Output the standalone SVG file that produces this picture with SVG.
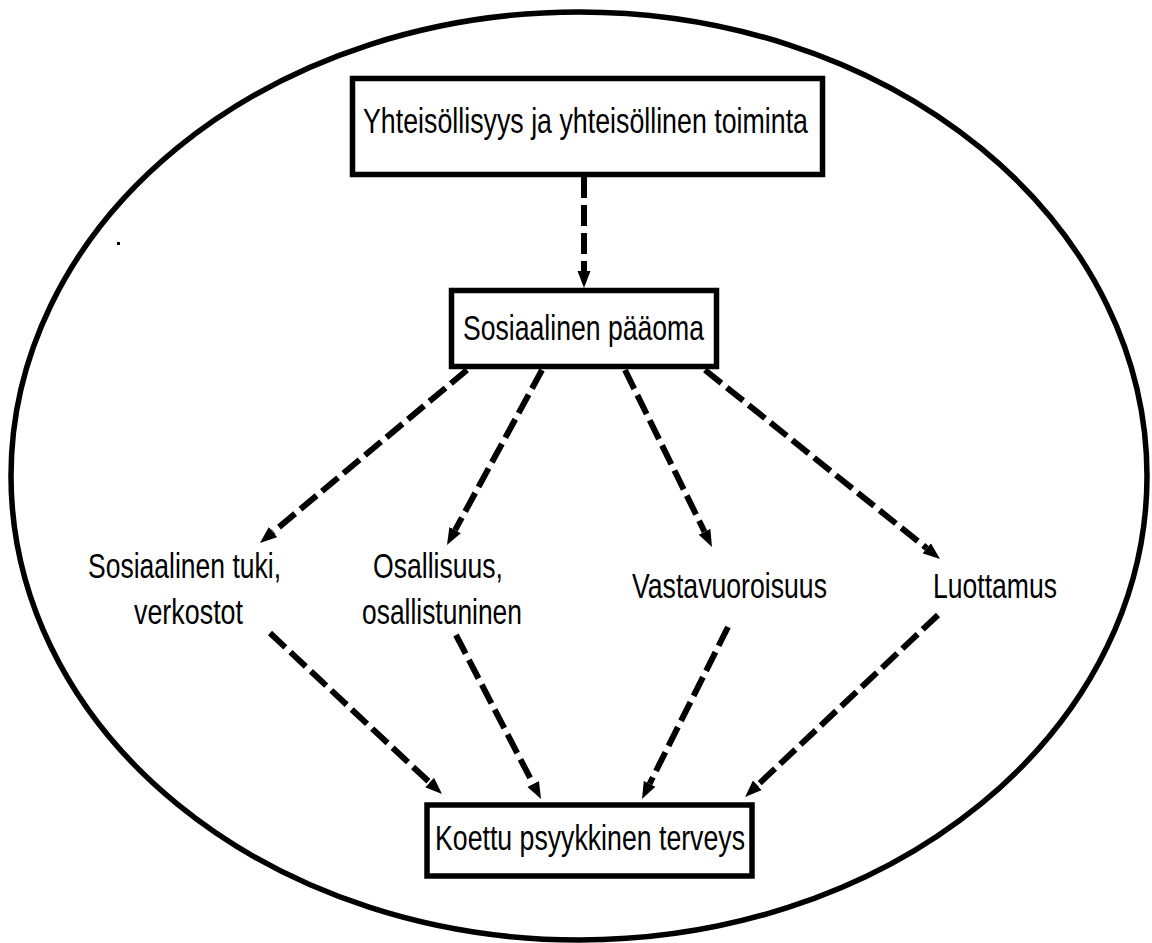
<svg xmlns="http://www.w3.org/2000/svg" width="1152" height="943" viewBox="0 0 1152 943">
<style>
.box{fill:#fff;stroke:#000;stroke-width:5.5}
.t{font-family:"Liberation Sans",Arial,sans-serif;font-size:35px;fill:#000}
.c{fill:none;stroke:#000;stroke-width:6;stroke-dasharray:21 7;marker-end:url(#ah)}
</style>
<defs>
<marker id="ah" markerUnits="userSpaceOnUse" markerWidth="18" markerHeight="14" refX="0" refY="6.5" orient="auto" viewBox="0 0 18 13">
<path d="M0,0 L17,6.5 L0,13 z" fill="#000"/>
</marker>
</defs>
<rect width="1152" height="943" fill="#fff"/>
<ellipse cx="579" cy="476" rx="568" ry="464" fill="none" stroke="#000" stroke-width="5.5"/>
<rect x="117" y="242" width="3" height="3" fill="#000"/>
<g id="connectors">
<path class="c" d="M584,177 L584,271"/>
<path class="c" d="M467,370 L273,532.1"/>
<path class="c" d="M542,370 L455.1,530.1"/>
<path class="c" d="M625,370 L704.5,531.7"/>
<path class="c" d="M705,370 L926.8,548.3"/>
<path class="c" d="M270,633 L429.6,782.4"/>
<path class="c" d="M456,635 L533.2,783.9"/>
<path class="c" d="M728,627 L649.6,783.8"/>
<path class="c" d="M938,615 L757.4,785.3"/>
</g>
<g id="n-yhteisollisyys">
<rect class="box" x="352.5" y="78.5" width="470" height="96"/>
<text class="t" x="363" y="133" font-size="36" textLength="445" lengthAdjust="spacingAndGlyphs">Yhteisöllisyys ja yhteisöllinen toiminta</text>
</g>
<g id="n-sosiaalinen-paaoma">
<rect class="box" x="451.5" y="290.5" width="265" height="76"/>
<text class="t" x="463" y="340" textLength="241" lengthAdjust="spacingAndGlyphs">Sosiaalinen pääoma</text>
</g>
<g id="n-tuki">
<text class="t" x="88" y="578" font-size="34" textLength="193" lengthAdjust="spacingAndGlyphs">Sosiaalinen tuki,</text>
<text class="t" x="134" y="624" font-size="34" textLength="109" lengthAdjust="spacingAndGlyphs">verkostot</text>
</g>
<g id="n-osallisuus">
<text class="t" x="373" y="578" font-size="34" textLength="130" lengthAdjust="spacingAndGlyphs">Osallisuus,</text>
<text class="t" x="362" y="624" font-size="34" textLength="160" lengthAdjust="spacingAndGlyphs">osallistuninen</text>
</g>
<g id="n-vastavuoroisuus">
<text class="t" x="632" y="598" font-size="34" textLength="195" lengthAdjust="spacingAndGlyphs">Vastavuoroisuus</text>
</g>
<g id="n-luottamus">
<text class="t" x="933" y="598" font-size="34" textLength="124" lengthAdjust="spacingAndGlyphs">Luottamus</text>
</g>
<g id="n-terveys">
<rect class="box" x="427" y="805" width="325" height="71" stroke-width="6"/>
<text class="t" x="435" y="850" textLength="310" lengthAdjust="spacingAndGlyphs">Koettu psyykkinen terveys</text>
</g>
</svg>
